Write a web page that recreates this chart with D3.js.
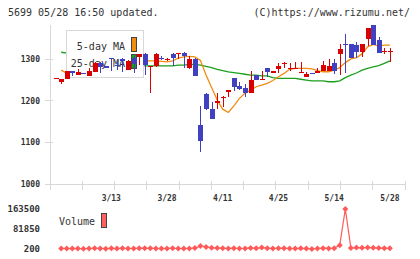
<!DOCTYPE html>
<html lang="en">
<head>
    <meta charset="UTF-8">
    <script src="https://d3js.org/d3.v7.min.js"></script>
    <title>5699 chart</title>
    <style>
        body { margin: 0; background: #fff; }
        text { font-family: "DejaVu Sans Mono", monospace; fill: #333; }
    </style>
</head>
<body>
    <svg id="chart" width="420" height="259"></svg>
    <script>
        // trading days shown (2025)
        const dates = ["2/27","2/28","3/3","3/4","3/5","3/6","3/7","3/10","3/11","3/12",
            "3/13","3/14","3/17","3/18","3/19","3/21","3/24","3/25","3/26","3/27",
            "3/28","3/31","4/1","4/2","4/3","4/4","4/7","4/8","4/9","4/10",
            "4/11","4/14","4/15","4/16","4/17","4/18","4/21","4/22","4/23","4/24",
            "4/25","4/28","4/30","5/1","5/2","5/7","5/8","5/9","5/12","5/13",
            "5/14","5/15","5/16","5/19","5/20","5/21","5/22","5/23","5/26","5/27","5/28"];
        const xLabels = ["3/13","3/28","4/11","4/25","5/14","5/28"];

        const open  = [1254,1245,1252,1272,1262,1267,1261,1270,1290,1283,
                       1303,1287,1300,1275,1302,1306,1313,1281,1284,1304,
                       1299,1313,1313,1316,1280,1300,1142,1217,1180,1196,
                       1208,1221,1254,1236,1231,1220,1262,1250,1278,1269,
                       1276,1288,1277,1278,1266,1258,1267,1266,1273,1272,
                       1290,1313,1337,1336,1334,1318,1349,1382,1347,1317,1320];
        const high  = [1255,1252,1272,1272,1276,1268,1278,1293,1294,1284,
                       1303,1298,1302,1298,1308,1312,1314,1285,1314,1308,
                       1303,1314,1316,1317,1307,1302,1188,1220,1198,1218,
                       1211,1225,1255,1246,1240,1272,1263,1272,1279,1272,
                       1290,1293,1292,1293,1293,1269,1267,1278,1296,1300,
                       1300,1337,1361,1337,1341,1338,1375,1382,1353,1326,1326];
        const low   = [1254,1240,1252,1259,1262,1264,1261,1270,1266,1278,
                       1272,1274,1270,1274,1268,1286,1262,1220,1282,1298,
                       1297,1284,1300,1280,1277,1261,1078,1178,1156,1180,
                       1186,1210,1224,1226,1210,1220,1249,1249,1258,1268,
                       1268,1279,1272,1277,1266,1258,1265,1266,1273,1271,
                       1265,1262,1266,1304,1302,1306,1332,1334,1314,1313,1294];
        const close = [1255,1252,1272,1267,1270,1265,1271,1292,1281,1280,
                       1301,1284,1296,1297,1288,1312,1287,1284,1312,1300,
                       1301,1303,1315,1309,1300,1261,1104,1180,1156,1199,
                       1210,1225,1234,1229,1220,1250,1249,1253,1270,1271,
                       1283,1292,1279,1279,1270,1264,1265,1272,1286,1285,
                       1273,1325,1335,1304,1318,1338,1375,1334,1315,1321,1321];

        const ma5  = [null,1274,1266,1262,1263,1265,1267,1273,1278,1282,
                      1288,1290,1289,1291,1294,1296,1297,1296,1296,1295,
                      1294,1296,1303,1306,1307,1306,1297,1262,1232,1202,
                      1180,1172,1188,1206,1218,1226,1234,1238,1242,1249,
                      1258,1266,1276,1278,1278,1278,1277,1273,1270,1270,
                      1274,1280,1292,1301,1304,1313,1330,1336,1332,1334,1334];
        const ma25 = [null,1317,1315,1313,1311,1309,1306,1303,1300,1298,
                      1296,1294,1292,1290,1288,1286,1284,1284,1284,1284,
                      1284,1284,1286,1286,1288,1288,1286,1283,1280,1276,
                      1273,1270,1268,1266,1264,1262,1262,1260,1260,1256,
                      1254,1254,1254,1254,1252,1250,1248,1248,1248,1246,
                      1246,1248,1256,1262,1267,1274,1278,1282,1285,1290,1296];

        const volume = [null,2500,1800,2600,2000,1500,2200,3200,2400,1600,
                        2800,2000,3000,2600,2200,3400,2800,3200,2400,2000,
                        2700,3000,2200,1900,2600,3800,12000,8500,5000,4200,
                        3000,2600,3400,2200,2500,4400,3000,6000,3600,2400,
                        2800,3600,2300,2100,2900,1800,200,2200,3400,2600,
                        3300,16000,163500,4200,6000,5200,6500,4800,4000,2800,3200];

        const yTicks = [1000, 1100, 1200, 1300];

        const svg = d3.select("#chart");
        const idx = d3.range(dates.length);

        const x = d3.scaleLinear().domain([0, 60]).range([55.6, 389.9]);
        const y = d3.scaleLinear().domain([1000, 1300]).range([184, 59.3]);
        const yVol = d3.scaleLinear()
            .domain([d3.min(volume.filter(v => v != null)), d3.max(volume)])
            .range([249, 209]);
        const xTick = d3.scaleLinear().domain([0, 11]).range([50, 405]);

        // header
        svg.append("text").attr("x", 8).attr("y", 16)
            .style("font-size", "10px").text("5699 05/28 16:50 updated.");
        svg.append("text").attr("x", 410).attr("y", 16).attr("text-anchor", "end")
            .style("font-size", "10px").text("(C)https://www.rizumu.net/");

        // axes
        const gAxis = svg.append("g").attr("stroke", "#d8d8d8").attr("shape-rendering", "crispEdges");
        gAxis.append("line").attr("x1", 50).attr("x2", 50).attr("y1", 25).attr("y2", 190);
        gAxis.append("line").attr("x1", 50).attr("x2", 405).attr("y1", 184).attr("y2", 184);
        gAxis.selectAll(".xt").data(d3.range(1, 12)).enter().append("line")
            .attr("x1", d => xTick(d)).attr("x2", d => xTick(d))
            .attr("y1", 181).attr("y2", 190);
        gAxis.selectAll(".yt").data(yTicks).enter().append("line")
            .attr("x1", 45).attr("x2", 53)
            .attr("y1", d => y(d)).attr("y2", d => y(d));

        svg.selectAll(".ylab").data(yTicks).enter().append("text")
            .attr("x", 40).attr("y", d => y(d)).attr("dy", "0.35em")
            .attr("text-anchor", "end")
            .style("font-size", "8px").style("font-weight", "bold")
            .text(d => d);

        svg.selectAll(".xlab").data(xLabels).enter().append("text")
            .attr("x", d => x(dates.indexOf(d))).attr("y", 198).attr("dy", "0.35em")
            .attr("text-anchor", "middle")
            .style("font-size", "8px").style("font-weight", "bold")
            .text(d => d);

        // moving averages
        const maLine = arr => d3.line()
            .defined(i => arr[i] != null)
            .x(i => x(i)).y(i => y(arr[i]));
        svg.append("path").attr("d", maLine(ma25)(idx))
            .attr("fill", "none").attr("stroke", "#1aa01a").attr("stroke-width", 1.3);
        svg.append("path").attr("d", maLine(ma5)(idx))
            .attr("fill", "none").attr("stroke", "#f08c10").attr("stroke-width", 1.3);

        // legend (sits over the MA lines, under the candles)
        const gLeg = svg.append("g");
        gLeg.append("rect").attr("x", 66.5).attr("y", 30.5).attr("width", 77).attr("height", 47)
            .attr("fill", "#fff").attr("stroke", "#d8d8d8");
        gLeg.append("text").attr("x", 125).attr("y", 46).attr("dy", "0.35em")
            .attr("text-anchor", "end").style("font-size", "10px").text("5-day MA");
        gLeg.append("text").attr("x", 125).attr("y", 63).attr("dy", "0.35em")
            .attr("text-anchor", "end").style("font-size", "10px").text("25-day MA");
        gLeg.append("rect").attr("x", 131.5).attr("y", 37.5).attr("width", 5).attr("height", 14)
            .attr("fill", "#f08c10").attr("stroke", "#444");
        gLeg.append("rect").attr("x", 131.5).attr("y", 54.5).attr("width", 5).attr("height", 14)
            .attr("fill", "#1aa01a").attr("stroke", "#444");

        // candles
        const col = i => close[i] >= open[i] ? "#d80000" : "#4040c0";
        const gC = svg.append("g").attr("shape-rendering", "crispEdges");
        gC.selectAll("line").data(idx).enter().append("line")
            .attr("x1", i => Math.round(x(i)) + 0.5).attr("x2", i => Math.round(x(i)) + 0.5)
            .attr("y1", i => y(high[i])).attr("y2", i => y(low[i]))
            .attr("stroke", col);
        gC.selectAll("rect").data(idx).enter().append("rect")
            .attr("x", i => Math.round(x(i)) - 2)
            .attr("y", i => y(Math.max(open[i], close[i])))
            .attr("width", 5)
            .attr("height", i => Math.max(1.2, y(Math.min(open[i], close[i])) - y(Math.max(open[i], close[i]))))
            .attr("fill", col);

        // volume
        svg.selectAll(".vlab").data([d3.max(volume), (d3.max(volume) + 200) / 2, 200]).enter().append("text")
            .attr("x", 40).attr("y", d => yVol(d)).attr("dy", "0.35em")
            .attr("text-anchor", "end")
            .style("font-size", "9px").style("font-weight", "bold")
            .text(d => d);

        const volLine = d3.line().defined(i => volume[i] != null)
            .x(i => x(i)).y(i => yVol(volume[i]));
        svg.append("path").attr("d", volLine(idx))
            .attr("fill", "none").attr("stroke", "#ff5a5a").attr("stroke-width", 1.2);
        svg.selectAll(".vdot").data(idx.filter(i => volume[i] != null)).enter().append("path")
            .attr("transform", i => "translate(" + x(i) + "," + yVol(volume[i]) + ")")
            .attr("d", "M0,-3L3,0L0,3L-3,0Z")
            .attr("fill", "#ff5a5a");

        svg.append("text").attr("x", 59).attr("y", 221.5).attr("dy", "0.35em")
            .style("font-size", "10px").text("Volume");
        svg.append("rect").attr("x", 101.5).attr("y", 213.5).attr("width", 5).attr("height", 14)
            .attr("fill", "#ff6060").attr("stroke", "#444");
    </script>
</body>
</html>
